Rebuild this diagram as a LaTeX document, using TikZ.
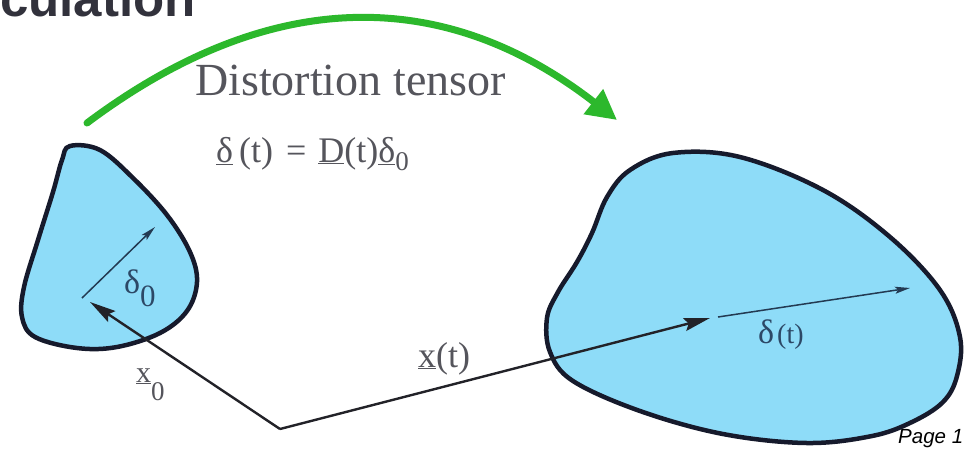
\documentclass[tikz,border=0pt]{standalone}
\usepackage{fontspec}
\setmainfont{Liberation Serif}
\newfontfamily\sansf{Liberation Sans}
\usetikzlibrary{arrows.meta}
\definecolor{blobfill}{RGB}{142,220,248}
\definecolor{blobline}{RGB}{22,26,44}
\definecolor{arcgreen}{RGB}{44,184,44}
\definecolor{txtgray}{RGB}{85,85,92}
\definecolor{txtblue}{RGB}{44,72,102}
\definecolor{linedark}{RGB}{34,34,40}
\definecolor{titlegray}{RGB}{50,50,60}
\begin{document}
\begin{tikzpicture}[x=1pt,y=-1pt,
  blob/.style={fill=blobfill,draw=blobline,line width=4.5pt},
  posarrow/.style={draw=linedark,line width=2.4pt,-{Stealth[length=26pt,width=13pt,inset=4pt]}},
  devarrow/.style={draw=txtblue!80!black,line width=1.5pt,-{Stealth[length=15pt,width=7pt,inset=3pt]}},
  greenarrow/.style={draw=arcgreen,line width=7pt,line cap=round,-{Triangle[length=30pt,width=30pt]}},
  lbl/.style={inner sep=0pt,anchor=base west}]
\useasboundingbox (0,0) rectangle (964,451);
\fill[white] (0,0) rectangle (964,451);
% title fragment
\node[lbl,text=titlegray,font=\sansf\bfseries\fontsize{51}{56}\selectfont] (title) at (0,16) {culation};
% blobs
\draw[blob] plot[smooth cycle,tension=0.6] coordinates {(70,146) (100,150) (133,178) (167,215) (190,252) (197,282) (187,311) (160,333) (117,347) (77,348) (35,337) (22,317) (24,287) (38,240) (53,192) (62,160)};
\draw[blob] plot[smooth cycle,tension=0.6] coordinates {(630,170) (673,153) (740,157) (823,190) (890,237) (940,290) (960,337) (957,376) (943,402) (912,422) (872,436) (807,443) (723,434) (640,411) (573,381) (550,352) (547,318) (558,292) (577,262) (592,233) (607,197)};
% coordinates
\coordinate (V) at (280,429);
\coordinate (P0) at (90,302);
\coordinate (D0s) at (82,298);
\coordinate (D0e) at (155,227);
\coordinate (Pt) at (710,318);
\coordinate (Dts) at (718,317);
\coordinate (Dte) at (910,288);
\coordinate (gs) at (87,123);
\coordinate (ge) at (617,120);
% arrows
\draw[devarrow] (D0s) -- (D0e);
\draw[posarrow] (V) -- (P0);
\draw[posarrow] (V) -- (Pt);
\draw[devarrow] (Dts) -- (Dte);
\draw[greenarrow] (gs) .. controls (282,-23) and (455,-6) .. (ge);
% texts
\node[lbl,text=txtgray,font=\fontsize{46}{52}\selectfont] (dist) at (195,95) {Distortion tensor};
\node[lbl,text=txtgray,font=\fontsize{36}{42}\selectfont] (formula) at (216,162)
  {\underline{δ}\hspace{6pt}(t)\hspace{13pt}=\hspace{12pt}\underline{D}(t)\underline{δ}\raisebox{-8pt}{\fontsize{27}{30}\selectfont 0}};
\node[lbl,text=txtblue,font=\fontsize{34}{40}\selectfont] (d0) at (124,293) {δ\raisebox{-13pt}{\fontsize{31}{36}\selectfont 0}};
\node[lbl,text=txtblue,font=\fontsize{34}{40}\selectfont] (dt) at (758,343) {δ\hspace{3pt}{\fontsize{28}{32}\selectfont(t)}};
\node[lbl,text=txtgray,font=\fontsize{36}{42}\selectfont] (xt) at (418,367) {\underline{x}(t)};
\node[lbl,text=txtgray,font=\fontsize{30}{36}\selectfont] (x0) at (136,382) {\underline{x}\raisebox{-18pt}{\fontsize{27}{32}\selectfont 0}};
\node[lbl,text=black,font=\sansf\itshape\fontsize{20.5}{24}\selectfont] (page) at (898,443) {Page 1};
\end{tikzpicture}
\end{document}
